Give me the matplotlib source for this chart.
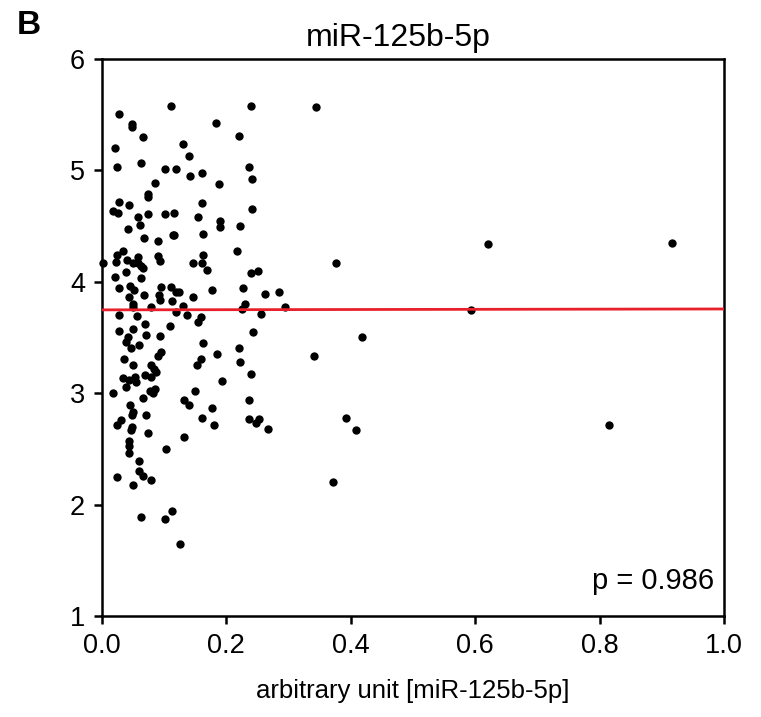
import matplotlib
matplotlib.use("Agg")
import matplotlib.pyplot as plt

plt.rcParams['font.family'] = ['Liberation Sans', 'DejaVu Sans']

# Scatter points (x = arbitrary unit, y = value)
x_vals = [
    0.345, 0.376, 0.621, 0.917, 0.593, 0.418, 0.341, 0.393, 0.408, 0.815, 0.372,
    0.111, 0.028, 0.048, 0.048, 0.066, 0.021, 0.130, 0.140, 0.025, 0.063, 0.102,
    0.120, 0.142, 0.086, 0.075, 0.075, 0.028, 0.044,
    0.240, 0.184, 0.221, 0.236, 0.162, 0.189, 0.241, 0.162, 0.241,
    0.019, 0.027, 0.059, 0.075, 0.101, 0.117, 0.154, 0.062, 0.043, 0.114, 0.117,
    0.068, 0.090, 0.034, 0.025, 0.041, 0.058, 0.090, 0.094, 0.002, 0.023, 0.051,
    0.059, 0.064, 0.067, 0.147, 0.161, 0.170, 0.039, 0.021, 0.063, 0.028, 0.046,
    0.052, 0.044, 0.068, 0.095, 0.092, 0.111, 0.119, 0.125, 0.094, 0.113, 0.130,
    0.146, 0.050, 0.051, 0.079, 0.028, 0.056, 0.119, 0.137,
    0.154, 0.070, 0.109, 0.051, 0.028, 0.071, 0.093, 0.043, 0.039, 0.060, 0.047,
    0.095, 0.091, 0.036, 0.051, 0.080, 0.084, 0.087, 0.153, 0.070, 0.079, 0.035,
    0.044, 0.054, 0.055, 0.039, 0.077, 0.086, 0.083, 0.019, 0.150, 0.067, 0.132,
    0.141, 0.046, 0.051, 0.048, 0.072, 0.031, 0.024, 0.048,
    0.047, 0.075, 0.133, 0.044, 0.044, 0.103, 0.044, 0.060, 0.060, 0.066, 0.025,
    0.079, 0.050, 0.113, 0.064, 0.102, 0.126,
    0.190, 0.190, 0.223, 0.163, 0.218, 0.163, 0.240, 0.251, 0.178, 0.227, 0.263,
    0.285, 0.230, 0.225, 0.256, 0.294, 0.160,
    0.243, 0.163, 0.221, 0.186, 0.160, 0.223, 0.240, 0.194, 0.236, 0.177, 0.162,
    0.237, 0.252, 0.248, 0.180, 0.268,
]
y_vals = [
    5.57, 4.17, 4.335, 4.344, 3.75, 3.50, 3.33, 2.78, 2.67, 2.71, 2.20,
    5.575, 5.51, 5.42, 5.39, 5.30, 5.20, 5.24, 5.13, 5.03, 5.07, 5.01,
    5.01, 4.95, 4.89, 4.79, 4.76, 4.72, 4.69,
    5.58, 5.43, 5.31, 5.03, 4.98, 4.88, 4.92, 4.71, 4.65,
    4.64, 4.62, 4.58, 4.61, 4.61, 4.62, 4.58, 4.51, 4.47, 4.42, 4.42,
    4.39, 4.365, 4.275, 4.24, 4.20, 4.22, 4.23, 4.19, 4.165, 4.18, 4.17,
    4.17, 4.145, 4.125, 4.165, 4.165, 4.11, 4.09, 4.045, 4.035, 3.945, 3.96,
    3.93, 3.86, 3.88, 3.955, 3.88, 3.955, 3.91, 3.91, 3.835, 3.83, 3.78,
    3.865, 3.80, 3.77, 3.775, 3.705, 3.69, 3.73, 3.70,
    3.64, 3.62, 3.60, 3.58, 3.56, 3.52, 3.51, 3.50, 3.46, 3.43, 3.41,
    3.37, 3.33, 3.305, 3.25, 3.25, 3.22, 3.19, 3.25, 3.16, 3.145, 3.14,
    3.12, 3.145, 3.10, 3.06, 3.02, 3.04, 3.00, 3.00, 3.02, 2.96, 2.94,
    2.89, 2.89, 2.83, 2.80, 2.80, 2.76, 2.71, 2.70,
    2.67, 2.64, 2.61, 2.57, 2.53, 2.50, 2.46, 2.39, 2.30, 2.26, 2.25,
    2.22, 2.18, 1.94, 1.89, 1.87, 1.65,
    4.55, 4.49, 4.50, 4.43, 4.275, 4.24, 4.08, 4.095, 3.93, 3.945, 3.89,
    3.905, 3.80, 3.755, 3.715, 3.77, 3.68,
    3.55, 3.455, 3.41, 3.35, 3.31, 3.28, 3.17, 3.11, 2.94, 2.87, 2.78,
    2.77, 2.77, 2.73, 2.71, 2.68,
]

fit_x = [0.0, 1.0]
fit_y = [3.748, 3.756]

x_ticks = [0.0, 0.2, 0.4, 0.6, 0.8, 1.0]
x_ticklabels = ["0.0", "0.2", "0.4", "0.6", "0.8", "1.0"]
y_ticks = [1, 2, 3, 4, 5, 6]
y_ticklabels = ["1", "2", "3", "4", "5", "6"]

fig = plt.figure(figsize=(7.61, 7.17), dpi=100)
ax = fig.add_axes([0.1336, 0.1409, 0.8178, 0.7768])

ax.scatter(x_vals, y_vals, s=36, color="black", linewidths=0, zorder=3, clip_on=False)
ax.plot(fit_x, fit_y, color="#e8202a", linewidth=2.0, zorder=4)

ax.set_xlim(0, 1.0)
ax.set_ylim(1, 6)
ax.set_xticks(x_ticks)
ax.set_xticklabels(x_ticklabels)
ax.set_yticks(y_ticks)
ax.set_yticklabels(y_ticklabels)

for sp in ax.spines.values():
    sp.set_linewidth(1.8)
    sp.set_color("black")

ax.tick_params(axis="both", direction="out", length=6, width=1.8,
               labelsize=19.5, colors="black", pad=6)

ax.set_xlabel("arbitrary unit [miR-125b-5p]", fontsize=18.5, labelpad=15)

fig.text(398 / 761, 1 - 38 / 717, "miR-125b-5p", fontsize=23,
         ha="center", va="center")
fig.text(0.022, 1 - 25 / 717, "B", fontsize=24, fontweight="bold",
         ha="left", va="center")
fig.text(714 / 761, 1 - 581 / 717, "p = 0.986", fontsize=21,
         ha="right", va="center")

fig.savefig("out.png", dpi=100)
